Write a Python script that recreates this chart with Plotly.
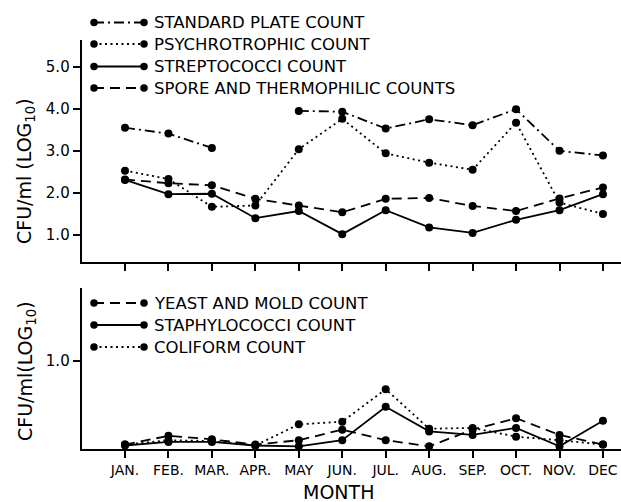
import plotly.graph_objects as go

# Monthly bacterial counts, CFU/ml (log10)
MONTHS = ["JAN.", "FEB.", "MAR.", "APR.", "MAY", "JUN.", "JUL.", "AUG.", "SEP.", "OCT.", "NOV.", "DEC"]

standard_plate = [3.55, 3.41, 3.07, None, 3.95, 3.93, 3.53, 3.75, 3.61, 3.99, 3.00, 2.89]
psychrotrophic = [2.53, 2.33, 1.67, 1.70, 3.04, 3.76, 2.94, 2.72, 2.55, 3.67, 1.77, 1.50]
streptococci = [2.31, 1.97, 1.98, 1.40, 1.57, 1.02, 1.59, 1.18, 1.05, 1.36, 1.59, 1.97]
spore_thermo = [2.32, 2.23, 2.18, 1.86, 1.70, 1.54, 1.86, 1.88, 1.69, 1.57, 1.87, 2.13]

yeast_mold = [0.05, 0.15, 0.11, 0.05, 0.10, 0.22, 0.10, 0.03, 0.22, 0.35, 0.16, 0.05]
staphylococci = [0.04, 0.08, 0.08, 0.04, 0.03, 0.10, 0.48, 0.20, 0.16, 0.24, 0.03, 0.32]
coliform = [0.05, 0.10, 0.09, 0.04, 0.28, 0.31, 0.68, 0.23, 0.24, 0.14, 0.10, 0.05]

TOP_TICKS = [1, 2, 3, 4, 5]
TOP_TICK_TEXT = ["1.0", "2.0", "3.0", "4.0", "5.0"]
BOTTOM_TICKS = [1]
BOTTOM_TICK_TEXT = ["1.0"]

W, H = 621, 502
FONT = "DejaVu Sans"
INK = "black"
LW = 1.8

DOT = "2px,3.5px"
DASH = "10px,6px"
DASHDOT = "10px,4px,2px,4px"


def fx(px):
    return px / W


def fy(py):
    return 1 - py / H


idx = list(range(len(MONTHS)))

top_series = [
    ("STANDARD PLATE COUNT", standard_plate, DASHDOT),
    ("PSYCHROTROPHIC COUNT", psychrotrophic, DOT),
    ("STREPTOCOCCI COUNT", streptococci, "solid"),
    ("SPORE AND THERMOPHILIC COUNTS", spore_thermo, DASH),
]
bottom_series = [
    ("YEAST AND MOLD COUNT", yeast_mold, DASH),
    ("STAPHYLOCOCCI COUNT", staphylococci, "solid"),
    ("COLIFORM COUNT", coliform, DOT),
]

fig = go.Figure()

marker = dict(color=INK, size=8, symbol="circle")

for name, vals, dash in top_series:
    fig.add_trace(go.Scatter(
        x=idx, y=vals, mode="lines+markers", name=name,
        line=dict(color=INK, width=LW, dash=dash),
        marker=marker, connectgaps=False, showlegend=False,
        xaxis="x", yaxis="y",
    ))

for name, vals, dash in bottom_series:
    fig.add_trace(go.Scatter(
        x=idx, y=vals, mode="lines+markers", name=name,
        line=dict(color=INK, width=LW, dash=dash),
        marker=marker, showlegend=False,
        xaxis="x2", yaxis="y2",
    ))

# Legend keys drawn on a pixel-scaled overlay axis
KEY_X0, KEY_X1, TEXT_X = 94, 144, 152
top_key_y = [22.5, 44, 66.5, 88]
bottom_key_y = [303, 325, 347]

annotations = []
for (name, _, dash), ky in list(zip(top_series, top_key_y)) + list(zip(bottom_series, bottom_key_y)):
    fig.add_trace(go.Scatter(
        x=[KEY_X0, KEY_X1], y=[ky, ky], mode="lines+markers",
        line=dict(color=INK, width=LW, dash=dash),
        marker=dict(color=INK, size=7.5, symbol="circle"),
        showlegend=False, hoverinfo="skip",
        xaxis="x3", yaxis="y3",
    ))
    annotations.append(dict(
        x=fx(TEXT_X), y=fy(ky), xref="paper", yref="paper",
        text=name, showarrow=False, xanchor="left", yanchor="middle",
        font=dict(family=FONT, size=16.5, color=INK),
    ))

# Axis titles
annotations.append(dict(
    x=fx(26), y=fy(171), xref="paper", yref="paper",
    text="CFU/ml (LOG<sub>10</sub>)", textangle=-90, showarrow=False,
    xanchor="center", yanchor="middle",
    font=dict(family=FONT, size=19, color=INK),
))
annotations.append(dict(
    x=fx(26), y=fy(371), xref="paper", yref="paper",
    text="CFU/ml(LOG<sub>10</sub>)", textangle=-90, showarrow=False,
    xanchor="center", yanchor="middle",
    font=dict(family=FONT, size=19, color=INK),
))
annotations.append(dict(
    x=fx(338), y=fy(492), xref="paper", yref="paper",
    text="MONTH", showarrow=False, xanchor="center", yanchor="middle",
    font=dict(family=FONT, size=19, color=INK),
))

# Month index mapping: JAN at 125 px, 43.45 px per month
X_RANGE = [(81.5 - 125) / 43.45, (621 - 125) / 43.45]

axis_common = dict(
    showgrid=False, zeroline=False, showline=True, linecolor=INK, linewidth=1.6,
    ticks="outside", ticklen=7, tickwidth=1.6, tickcolor=INK,
    tickfont=dict(family=FONT, size=15, color=INK),
)

fig.update_layout(
    width=W, height=H,
    margin=dict(l=0, r=0, t=0, b=0),
    paper_bgcolor="white", plot_bgcolor="rgba(0,0,0,0)",
    showlegend=False,
    annotations=annotations,
    xaxis=dict(
        **axis_common, domain=[fx(81.5), 1], range=X_RANGE, anchor="y",
        tickmode="array", tickvals=idx, showticklabels=False,
    ),
    yaxis=dict(
        **axis_common, domain=[fy(262), fy(40)], range=[1 - 27 / 42.08, 5 + 26.7 / 42.08],
        anchor="x", tickmode="array", tickvals=TOP_TICKS, ticktext=TOP_TICK_TEXT,
    ),
    xaxis2=dict(
        **{**axis_common, "tickfont": dict(family=FONT, size=14, color=INK)},
        domain=[fx(81.5), 1], range=X_RANGE, anchor="y2",
        tickmode="array", tickvals=idx, ticktext=MONTHS,
    ),
    yaxis2=dict(
        **axis_common, domain=[fy(449), fy(288)], range=[0, (449 - 288) / 88],
        anchor="x2", tickmode="array", tickvals=BOTTOM_TICKS, ticktext=BOTTOM_TICK_TEXT,
    ),
    xaxis3=dict(domain=[0, 1], range=[0, W], visible=False, anchor="y3", fixedrange=True),
    yaxis3=dict(domain=[0, 1], range=[H, 0], visible=False, anchor="x3", fixedrange=True),
)

fig.write_html("out.html")
